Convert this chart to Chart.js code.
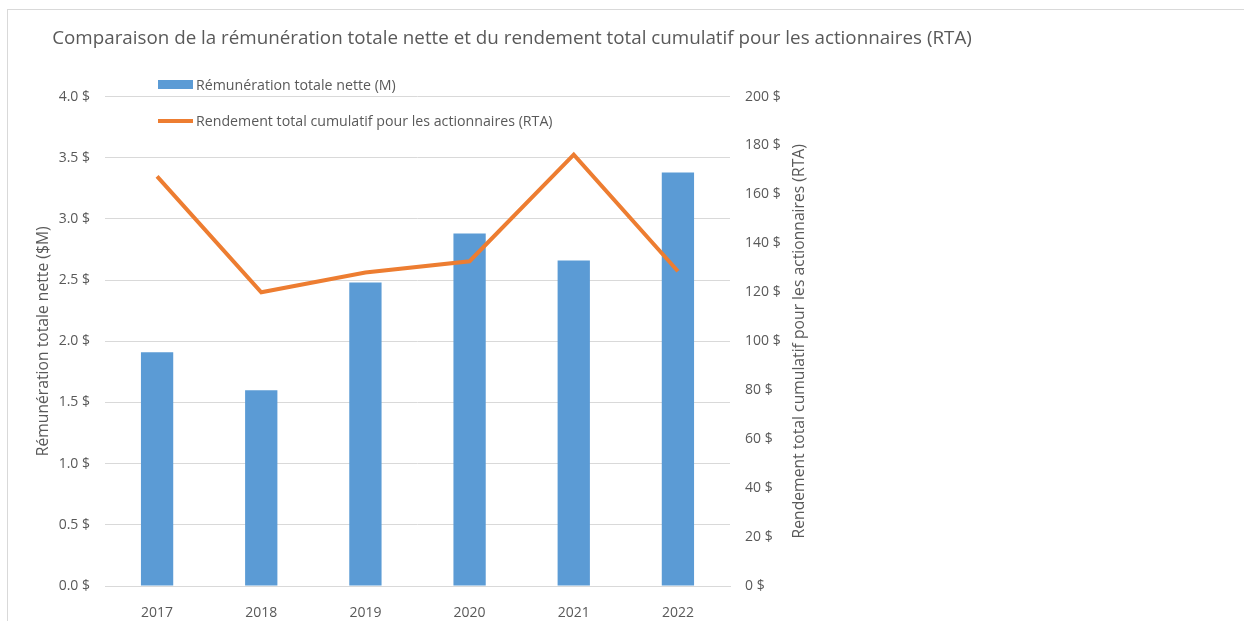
<!DOCTYPE html>
<html lang="fr">
<head>
<meta charset="utf-8">
<title>Rémunération et RTA</title>
<script src="https://cdn.jsdelivr.net/npm/chart.js@4.4.1/dist/chart.umd.min.js"></script>
<style>
    html, body { margin: 0; padding: 0; background: #fff; }
    .wrap { position: relative; width: 1244px; height: 621px; overflow: hidden; }
    .frame {
        position: absolute; left: 7px; top: 9px; width: 1300px; height: 700px;
        border-top: 1px solid #d9d9d9; border-left: 1px solid #d9d9d9;
    }
    canvas { position: absolute; left: 0; top: 0; }
    .legend { position: absolute; left: 158px; top: 75px; font-family: 'Open Sans', sans-serif; font-size: 14.2px; color: #595959; }
    .legend .item { position: relative; height: 20px; line-height: 20px; padding-left: 38px; white-space: nowrap; }
    .legend .item + .item { margin-top: 16px; }
    .legend .swatch { position: absolute; left: 0; }
    .legend .bar { top: 5px; width: 35px; height: 9px; background: #5b9bd5; }
    .legend .line { top: 8px; width: 35px; height: 4px; background: #ed7d31; }
</style>
</head>
<body>
<div class="wrap">
    <div class="frame"></div>
    <canvas id="rtaChart" width="1244" height="621"></canvas>
    <div class="legend" id="legend"></div>
</div>
<script>
// Données
const years = ['2017', '2018', '2019', '2020', '2021', '2022'];
const remuneration = [1.91, 1.60, 2.48, 2.88, 2.66, 3.38];   // $M
const rta = [167.4, 120.0, 128.1, 132.7, 176.3, 128.6];      // $

const labelRemu = 'Rémunération totale nette (M)';
const labelRta = 'Rendement total cumulatif pour les actionnaires (RTA)';
const titleLeft = 'Rémunération totale nette ($M)';
const titleRight = 'Rendement total cumulatif pour les actionnaires (RTA)';

const FONT = "'Open Sans', sans-serif";
const GREY = '#595959';
const GRID = '#d9d9d9';

/* Legend (HTML) */

document.getElementById('legend').innerHTML =
    '<div class="item"><span class="swatch bar"></span>' + labelRemu + '</div>' +
    '<div class="item"><span class="swatch line"></span>' + labelRta + '</div>';

/* Right axis title, reads bottom to top like the left one */

const rightTitle = {
    id: 'rightTitle',
    afterDraw(chart) {
        const { ctx, chartArea } = chart;
        ctx.save();
        ctx.translate(800, (chartArea.top + chartArea.bottom) / 2);
        ctx.rotate(-Math.PI / 2);
        ctx.font = '15.7px ' + FONT;
        ctx.fillStyle = GREY;
        ctx.textAlign = 'center';
        ctx.textBaseline = 'middle';
        ctx.fillText(titleRight, 0, 0);
        ctx.restore();
    },
};

new Chart(document.getElementById('rtaChart'), {
    data: {
        labels: years,
        datasets: [
            {
                type: 'line',
                label: labelRta,
                data: rta,
                yAxisID: 'y1',
                borderColor: '#ed7d31',
                borderWidth: 4,
                pointRadius: 0,
                tension: 0,
                order: 0,
            },
            {
                type: 'bar',
                label: labelRemu,
                data: remuneration,
                yAxisID: 'y',
                backgroundColor: '#5b9bd5',
                categoryPercentage: 1,
                barPercentage: 0.31,
                order: 1,
            },
        ],
    },
    options: {
        responsive: false,
        animation: false,
        layout: { padding: { left: 0, right: 220, top: 0, bottom: 0 } },
        plugins: {
            legend: { display: false },
            tooltip: { enabled: false },
            title: {
                display: true,
                text: 'Comparaison de la rémunération totale nette et du rendement total cumulatif pour les actionnaires (RTA)',
                color: GREY,
                font: { family: FONT, size: 18.8, weight: 'normal' },
                padding: { top: 27, bottom: 47 },
            },
        },
        scales: {
            x: {
                grid: { display: false },
                border: { color: GRID },
                ticks: { color: GREY, font: { family: FONT, size: 14 }, padding: 11 },
                afterFit: s => { s.height = 35; },
            },
            y: {
                position: 'left',
                min: 0,
                max: 4,
                ticks: {
                    stepSize: 0.5,
                    color: GREY,
                    font: { family: FONT, size: 14 },
                    padding: 15,
                    callback: v => v.toFixed(1) + ' $',
                },
                grid: { color: GRID, drawTicks: false },
                border: { display: false },
                title: {
                    display: true,
                    text: titleLeft,
                    color: GREY,
                    font: { family: FONT, size: 15.7 },
                    padding: { top: 34, bottom: 0 },
                },
                afterFit: s => { s.width = 105; },
            },
            y1: {
                position: 'right',
                min: 0,
                max: 200,
                ticks: {
                    stepSize: 20,
                    color: GREY,
                    font: { family: FONT, size: 14 },
                    padding: 15,
                    callback: v => v + ' $',
                },
                grid: { display: false, drawTicks: false },
                border: { display: false },
                afterFit: s => { s.width = 294; },
            },
        },
    },
    plugins: [rightTitle],
});
</script>
</body>
</html>
